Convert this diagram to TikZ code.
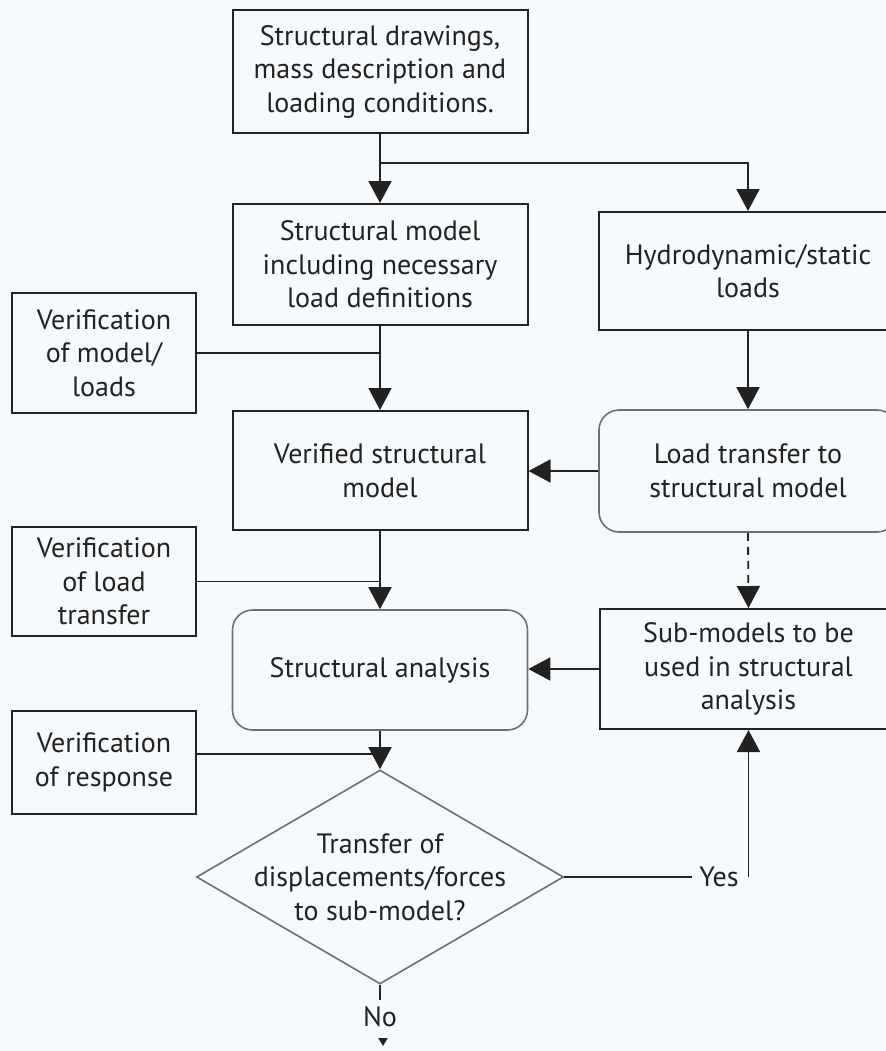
\documentclass[tikz,border=0pt]{standalone}
\usepackage{fontspec}
\setmainfont{PT Sans}
\usetikzlibrary{arrows.meta,shapes.geometric}
\definecolor{bg}{RGB}{247,250,252}
\definecolor{ink}{RGB}{34,34,34}
\tikzset{
	txt/.style={text=ink,font=\fontsize{14}{16.75}\selectfont},
	box/.style={txt,draw=ink,line width=1pt,align=center,minimum width=147.5pt,minimum height=60pt,inner sep=2pt},
	rbox/.style={box,draw=ink!65,line width=0.8pt,rounded corners=10pt},
	vbox/.style={box,minimum width=92pt},
	ask/.style={txt,diamond,draw=ink!65,line width=0.8pt,align=center,aspect=1.715,minimum width=183.5pt,minimum height=107pt,inner sep=-9pt},
	link/.style={draw=ink,line width=0.9pt},
	arr/.style={link,-{Triangle[length=11pt,width=11.5pt]}}
}

\begin{document}
\begin{tikzpicture}[x=0.5pt,y=-0.5pt]
	\useasboundingbox (0,0) rectangle (886,1051);
	\clip (0,0) rectangle (886,1051);
	\fill[bg] (0,0) rectangle (886,1051);

	\node[box,minimum height=61.5pt] (SD) at (380,71.5) {Structural drawings,\\mass description and\\loading conditions.};
	\node[box,minimum height=60.5pt] (SM) at (380,264.5) {Structural model\\including necessary\\load definitions};
	\node[box,minimum width=149pt,minimum height=59pt] (HL) at (748,271) {Hydrodynamic/static\\loads};
	\node[vbox] (VM) at (104,353) {Verification\\of model/\\loads};
	\node[box,minimum height=59.5pt] (VS) at (380,470.5) {Verified structural\\model};
	\node[rbox,minimum width=149pt,minimum height=61pt] (LT) at (748,471) {Load transfer to\\structural model};
	\node[vbox,minimum height=54.5pt] (VL) at (104,581.5) {Verification\\of load\\transfer};
	\node[rbox,minimum height=60pt] (SA) at (380,670) {Structural analysis};
	\node[box,minimum width=148.5pt,minimum height=60pt] (SU) at (748.5,669) {Sub-models to be\\used in structural\\analysis};
	\node[vbox,minimum height=51.5pt] (VR) at (104,762.5) {Verification\\of response};
	\node[ask] (TQ) at (380,877) {Transfer of\\displacements/forces\\to sub-model?};
	\node[txt] (Y) at (719,877) {Yes};
	\node[txt] (N) at (380,1017) {No};

	\coordinate (B) at (380,163);
	\coordinate (J) at (380,754);
	\coordinate (E1) at (383,1038);
	\coordinate (E2) at (383,1046);

	\draw[arr] (SD.south) -- (SM.north);
	\draw[arr] (B) -| (HL.north);
	\draw[link] (VM.east) -- (VM.east -| SM.south);
	\draw[arr] (SM.south) -- (VS.north);
	\draw[arr] (HL.south) -- (LT.north);
	\draw[arr] (LT.west) -- (VS.east |- LT.west);
	\draw[link] (VL.east) -- (VL.east -| VS.south);
	\draw[arr] (VS.south) -- (SA.north);
	\draw[arr,dash pattern=on 4pt off 3pt] (LT.south) -- (SU.north);
	\draw[arr] (SU.west) -- (SA.east |- SU.west);
	\draw[link] (VR.east |- J) -- (J);
	\draw[arr] (SA.south) -- (TQ.north);
	\draw[link] (TQ.east) -- (Y.west);
	\draw[arr] (Y.east -| SU.south) -- (SU.south);
	\draw[link] (TQ.south) -- (N.north);
	\draw[link,-{Triangle[length=4pt,width=4.5pt]}] (E1) -- (E2);
\end{tikzpicture}
\end{document}
